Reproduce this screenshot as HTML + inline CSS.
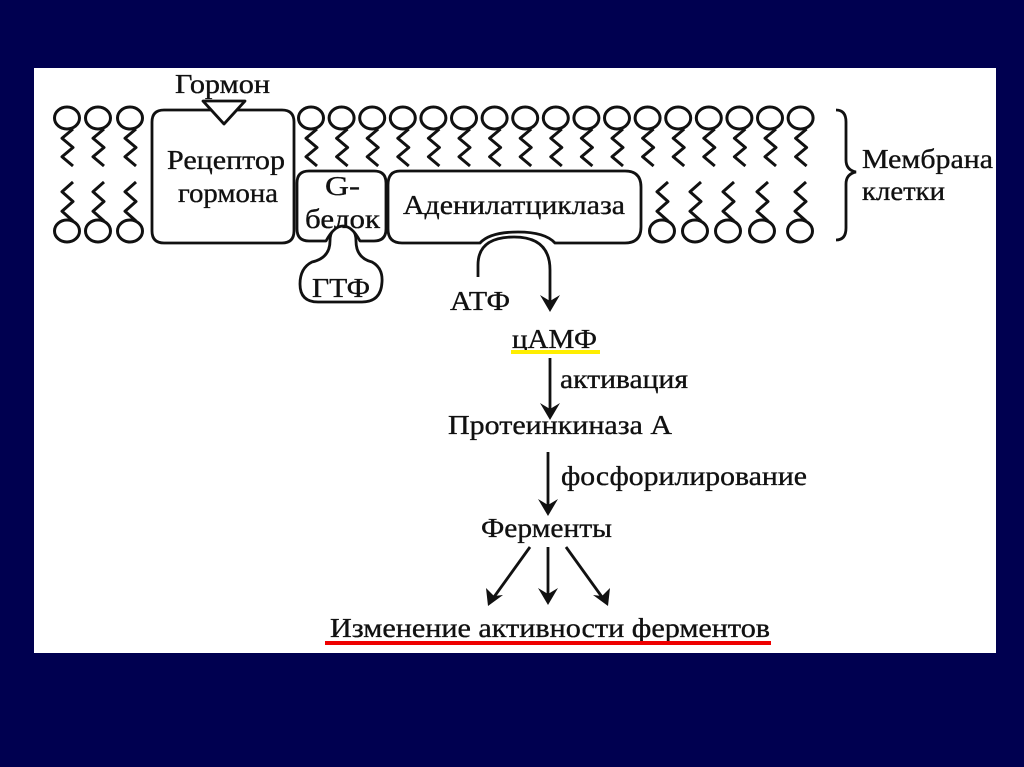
<!DOCTYPE html>
<html><head><meta charset="utf-8"><style>
html,body{margin:0;padding:0;background:#000050;}
svg{display:block}
text{font-family:"Liberation Serif","DejaVu Serif",serif;fill:#111;stroke:#111;stroke-width:0.35;}
</style></head><body>
<svg id="s" width="1024" height="767" xmlns="http://www.w3.org/2000/svg">
<rect width="1024" height="767" fill="#000050"/>
<rect x="34" y="68" width="962" height="585" fill="#fff"/>
<g id="lip" stroke="#111" stroke-width="3" fill="none" stroke-linejoin="round"></g>
<g stroke="#111" stroke-width="2.8" fill="#fff" stroke-linejoin="round">
<path d="M164,110 H282 Q294,110 294,122 V231 Q294,243 282,243 H164 Q152,243 152,231 V122 Q152,110 164,110 Z"/>
<path d="M203,101 H245 L224,124 Z"/>
<path d="M330,241 Q330,226 343,226 Q356,226 356,241 Q356,258 372,262 Q383,268 382,282 Q381,302 362,302 H318 Q300,302 300,284 Q300,268 312,262 Q330,258 330,241 Z"/>
<path d="M309,171 H374 Q386,171 386,183 V229 Q386,241 374,241 H360 Q352,226 343,226 Q334,226 326,241 H309 Q297,241 297,229 V183 Q297,171 309,171 Z"/>
<path d="M400,171 H625 Q641,171 641,187 V227 Q641,243 625,243 H555 Q545,232 518,232 Q490,232 480,243 H402 Q388,243 388,229 V185 Q388,171 400,171 Z"/>
</g>
<g stroke="#111" stroke-width="2.8" fill="none">
<path d="M478,277 V265 Q478,237 514,237 Q550,237 550,270 V305"/>
<path d="M550,358 V410"/>
<path d="M548,452 V506"/>
<path d="M530,547 L494,597"/>
<path d="M548,547 V597"/>
<path d="M566,547 L602,597"/>
<path d="M836,110 Q846,110 846,122 V160 Q846,170 856,172 Q846,174 846,184 V228 Q846,240 836,240"/>
</g>
<g fill="#111">
<path d="M540,295 L550,312 L560,295 L550,301 Z"/>
<path d="M540,403 L550,420 L560,403 L550,409 Z"/>
<path d="M538,499 L548,516 L558,499 L548,505 Z"/>
<path d="M538,588 L548,605 L558,588 L548,594 Z"/>
<path d="M486,588 L488,606 L503,595 L494,596 Z"/>
<path d="M610,588 L608,606 L593,595 L602,596 Z"/>
</g>
<g font-size="27">
<text x="175" y="93" textLength="95" lengthAdjust="spacingAndGlyphs">Гормон</text>
<text x="167" y="169" textLength="118" lengthAdjust="spacingAndGlyphs">Рецептор</text>
<text x="178" y="202" textLength="100" lengthAdjust="spacingAndGlyphs">гормона</text>
<text x="325" y="195" textLength="35" lengthAdjust="spacingAndGlyphs">G-</text>
<text x="305" y="228" textLength="75" lengthAdjust="spacingAndGlyphs">белок</text>
<text x="403" y="214" textLength="222" lengthAdjust="spacingAndGlyphs">Аденилатциклаза</text>
<text x="312" y="297" textLength="58" lengthAdjust="spacingAndGlyphs">ГТФ</text>
<text x="450" y="310" textLength="60" lengthAdjust="spacingAndGlyphs">АТФ</text>
<text x="512" y="348" textLength="85" lengthAdjust="spacingAndGlyphs">цАМФ</text>
<text x="560" y="388" textLength="128" lengthAdjust="spacingAndGlyphs">активация</text>
<text x="448" y="434" textLength="224" lengthAdjust="spacingAndGlyphs">Протеинкиназа А</text>
<text x="561" y="485" textLength="246" lengthAdjust="spacingAndGlyphs">фосфорилирование</text>
<text x="481" y="537" textLength="131" lengthAdjust="spacingAndGlyphs">Ферменты</text>
<text x="330" y="637" textLength="440" lengthAdjust="spacingAndGlyphs">Изменение активности ферментов</text>
<text x="862" y="168" textLength="131" lengthAdjust="spacingAndGlyphs">Мембрана</text>
<text x="862" y="200" textLength="83" lengthAdjust="spacingAndGlyphs">клетки</text>
</g>
<rect x="511" y="350" width="89" height="4" fill="#ffee00"/>
<rect x="325" y="641" width="446" height="4" fill="#ee0000"/>
</svg>
<script>
(function(){
var NS='http://www.w3.org/2000/svg';
var g=document.getElementById('lip');
function el(t,a){var e=document.createElementNS(NS,t);for(var k in a)e.setAttribute(k,a[k]);g.appendChild(e);}
function zz(x,y1,y2){var p='M'+x+','+y1,s=(y2-y1)/4;for(var i=1;i<=4;i++)p+=' L'+(x+(i%2?-11:0))+','+(y1+s*i);el('path',{d:p});}
function upper(x){zz(x+6,129,166);el('ellipse',{cx:x,cy:118,rx:12.5,ry:11,fill:'#fff'});}
function lower(x){zz(x+6,182,221);el('ellipse',{cx:x,cy:231,rx:12.5,ry:11,fill:'#fff'});}
[67,98,130].forEach(function(x){upper(x);lower(x);});
for(var i=0;i<17;i++)upper(311+i*30.6);
[662,695,728,762,800].forEach(lower);
})();
</script>
</body></html>
